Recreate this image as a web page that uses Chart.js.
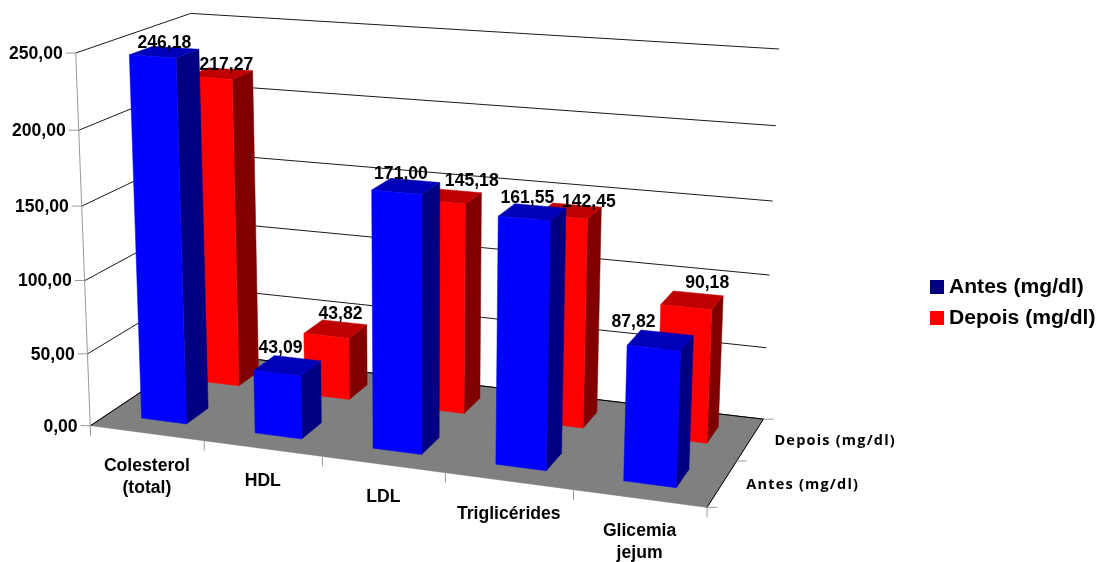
<!DOCTYPE html>
<html>
<head>
<meta charset="utf-8">
<title>Perfil lipídico</title>
<script src="https://cdn.jsdelivr.net/npm/chart.js@4"></script>
<style>
  html, body { margin: 0; padding: 0; background: #fff; }
  canvas { display: block; }
</style>
</head>
<body>
<canvas id="chart" width="1099" height="562"></canvas>
<script>
// Chart data
const categories = [["Colesterol", "(total)"], ["HDL"], ["LDL"], ["Triglicérides"], ["Glicemia", "jejum"]];
const antesValues = [246.18, 43.09, 171.0, 161.55, 87.82];
const depoisValues = [217.27, 43.82, 145.18, 142.45, 90.18];
const seriesNames = ["Antes (mg/dl)", "Depois (mg/dl)"];

// Face colours of each series: front, side, top, legend swatch
const faceColors = [
  { front: "#0000ff", side: "#000080", top: "#0000b8", key: "#000080" },
  { front: "#ff0000", side: "#800000", top: "#bf0000", key: "#ff0000" },
];

// Nudges for the value labels, per series and category, from the centre of the bar top
const labelNudges = [
  [[0, -9], [-7, -18], [-5, -12], [-5, -14], [-27, -18]],
  [[6, -8], [5, -15], [22, -15], [19, -9], [15, -17]],
];

const FONT = '"Liberation Sans", Arial, sans-serif';

// Camera calibration: box corners [u, v, w] (0..1) and where they land on the page
const cameraPoints = [
  [0, 0, 0, 90.5, 426.5], [0.2, 0, 0, 204, 441.7], [0.4, 0, 0, 322, 456.7],
  [0.6, 0, 0, 445.7, 472.7], [0.8, 0, 0, 573, 490], [1, 0, 0, 707, 506.5],
  [0, 1, 0, 200, 352], [1, 1, 0, 763, 419],
  [0, 0, 0.2, 88, 354], [0, 0, 0.4, 85, 279], [0, 0, 0.6, 82, 206], [0, 0, 0.8, 80, 130], [0, 0, 1, 75, 53],
  [1, 1, 0.2, 766.7, 348], [1, 1, 0.4, 770, 275], [1, 1, 0.6, 772.7, 201], [1, 1, 0.8, 776, 126], [1, 1, 1, 779, 49],
  [0, 1, 1, 190, 14],
];

// Least squares fit of the 3x4 projection matrix
function solveCamera(points) {
  const n = 11;
  const ata = Array.from({ length: n }, () => new Array(n + 1).fill(0));
  const addRow = (row, rhs) => {
    for (let i = 0; i < n; i++) {
      for (let j = 0; j < n; j++) ata[i][j] += row[i] * row[j];
      ata[i][n] += row[i] * rhs;
    }
  };
  points.forEach(([u, v, w, px, py]) => {
    const x = px / 1000;
    const y = py / 1000;
    addRow([u, v, w, 1, 0, 0, 0, 0, -x * u, -x * v, -x * w], x);
    addRow([0, 0, 0, 0, u, v, w, 1, -y * u, -y * v, -y * w], y);
  });
  for (let c = 0; c < n; c++) {
    let pivot = c;
    for (let r = c + 1; r < n; r++) {
      if (Math.abs(ata[r][c]) > Math.abs(ata[pivot][c])) pivot = r;
    }
    [ata[c], ata[pivot]] = [ata[pivot], ata[c]];
    for (let r = 0; r < n; r++) {
      if (r === c) continue;
      const f = ata[r][c] / ata[c][c];
      for (let k = c; k <= n; k++) ata[r][k] -= f * ata[c][k];
    }
  }
  return ata.map((row, i) => row[n] / row[i]);
}

const cam = solveCamera(cameraPoints);

function project(u, v, w) {
  const d = cam[8] * u + cam[9] * v + cam[10] * w + 1;
  return {
    x: (1000 * (cam[0] * u + cam[1] * v + cam[2] * w + cam[3])) / d,
    y: (1000 * (cam[4] * u + cam[5] * v + cam[6] * w + cam[7])) / d,
  };
}

function polygon(ctx, pts, fill) {
  ctx.beginPath();
  pts.forEach((p, i) => (i ? ctx.lineTo(p.x, p.y) : ctx.moveTo(p.x, p.y)));
  ctx.closePath();
  ctx.fillStyle = fill;
  ctx.strokeStyle = fill;
  ctx.lineWidth = 0.5;
  ctx.fill();
  ctx.stroke();
}

function line(ctx, a, b, color) {
  ctx.beginPath();
  ctx.moveTo(a.x, a.y);
  ctx.lineTo(b.x, b.y);
  ctx.strokeStyle = color;
  ctx.lineWidth = 1;
  ctx.stroke();
}

// Value scale position as a 0..1 height
function heightOf(chart, value) {
  const area = chart.chartArea;
  return (area.bottom - chart.scales.y.getPixelForValue(value)) / area.height;
}

// Depth slot of a series, same gap rule as the category slots
function depthRange(index, count) {
  return [(index + 0.3) / count, (index + 0.7) / count];
}

const box3d = {
  id: "box3d",

  // Walls, floor and axes behind the columns
  beforeDatasetsDraw(chart) {
    const { ctx, scales } = chart;
    const yScale = scales.y;
    const xScale = scales.x;
    const seriesCount = chart.data.datasets.length;

    yScale.ticks.forEach((tick) => {
      const w = heightOf(chart, tick.value);
      const front = project(0, 0, w);
      const corner = project(0, 1, w);
      line(ctx, front, corner, "#1a1a1a");
      line(ctx, corner, project(1, 1, w), "#1a1a1a");
      line(ctx, { x: front.x - 10, y: front.y }, front, "#999999");
      ctx.fillStyle = "#000";
      ctx.font = "bold 17.6px " + FONT;
      ctx.textAlign = "right";
      ctx.textBaseline = "middle";
      ctx.fillText(tick.label, front.x - 13, front.y + 1);
    });

    const floor = [project(0, 0, 0), project(1, 0, 0), project(1, 1, 0), project(0, 1, 0)];
    polygon(ctx, floor, "#808080");
    line(ctx, floor[0], floor[3], "#000");
    line(ctx, floor[3], floor[2], "#000");
    line(ctx, floor[2], floor[1], "#000");

    // Value axis, running a little below the floor
    const axisFoot = project(0, 0, 0);
    line(ctx, project(0, 0, 1), { x: axisFoot.x, y: axisFoot.y + 10 }, "#999999");

    // Category ticks and labels on the front edge
    const step = 1 / categories.length;
    for (let i = 1; i <= categories.length; i++) {
      const p = project(i * step, 0, 0);
      line(ctx, p, { x: p.x, y: p.y + 10 }, "#999999");
    }
    ctx.font = "bold 17.6px " + FONT;
    ctx.textAlign = "center";
    ctx.textBaseline = "middle";
    ctx.fillStyle = "#000";
    categories.forEach((lines, i) => {
      const u = (xScale.getPixelForValue(i) - chart.chartArea.left) / chart.chartArea.width;
      const p = project(u, 0, 0);
      lines.forEach((text, k) => ctx.fillText(text, p.x, p.y + 33 + k * 22));
    });

    // Depth axis ticks and series names
    for (let s = 0; s <= seriesCount; s++) {
      const p = project(1, s / seriesCount, 0);
      line(ctx, p, { x: p.x + 10, y: p.y }, "#999999");
    }
    ctx.font = 'bold 14.5px "Open Sans", sans-serif';
    ctx.letterSpacing = "1.2px";
    ctx.textAlign = "left";
    seriesNames.forEach((name, s) => {
      const p = project(1, (s + 0.5) / seriesCount, 0);
      ctx.fillText(name, p.x + 24, p.y + 1.5);
    });
    ctx.letterSpacing = "0px";
  },

  // The flat bars are replaced by boxes built from the same elements
  beforeDatasetDraw() {
    return false;
  },

  afterDatasetsDraw(chart) {
    const { ctx, chartArea } = chart;
    const count = chart.data.datasets.length;
    const uOf = (px) => (px - chartArea.left) / chartArea.width;

    // Back series first so the front one covers it
    for (let s = count - 1; s >= 0; s--) {
      const colors = faceColors[s];
      const [v0, v1] = depthRange(s, count);
      chart.getDatasetMeta(s).data.forEach((bar) => {
        const u0 = uOf(bar.x - bar.width / 2);
        const u1 = uOf(bar.x + bar.width / 2);
        const w = (chartArea.bottom - bar.y) / chartArea.height;
        polygon(ctx, [project(u1, v0, 0), project(u1, v1, 0), project(u1, v1, w), project(u1, v0, w)], colors.side);
        polygon(ctx, [project(u0, v0, w), project(u1, v0, w), project(u1, v1, w), project(u0, v1, w)], colors.top);
        polygon(ctx, [project(u0, v0, 0), project(u1, v0, 0), project(u1, v0, w), project(u0, v0, w)], colors.front);
      });
    }

    // Value labels go on top of every box
    ctx.font = "bold 17.6px " + FONT;
    ctx.fillStyle = "#000";
    ctx.textAlign = "center";
    ctx.textBaseline = "middle";
    for (let s = 0; s < count; s++) {
      const [v0, v1] = depthRange(s, count);
      chart.getDatasetMeta(s).data.forEach((bar, i) => {
        const value = chart.data.datasets[s].data[i];
        const top = project(uOf(bar.x), (v0 + v1) / 2, (chartArea.bottom - bar.y) / chartArea.height);
        const [dx, dy] = labelNudges[s][i];
        ctx.fillText(formatValue(value), top.x + dx, top.y + dy);
      });
    }

    // Legend
    ctx.font = "bold 21.1px " + FONT;
    ctx.textAlign = "left";
    seriesNames.forEach((name, s) => {
      const y = 287 + s * 31;
      ctx.fillStyle = faceColors[s].key;
      ctx.fillRect(930, y - 7, 14, 14);
      ctx.fillStyle = "#000";
      ctx.fillText(name, 949, y);
    });
  },
};

function formatValue(value) {
  return value.toFixed(2).replace(".", ",");
}

new Chart(document.getElementById("chart"), {
  type: "bar",
  data: {
    labels: categories,
    datasets: [
      { label: seriesNames[0], data: antesValues, backgroundColor: faceColors[0].front },
      { label: seriesNames[1], data: depoisValues, backgroundColor: faceColors[1].front },
    ],
  },
  options: {
    responsive: false,
    animation: false,
    datasets: { bar: { categoryPercentage: 1, barPercentage: 0.4 } },
    plugins: { legend: { display: false }, tooltip: { enabled: false } },
    scales: {
      x: { display: false, stacked: true },
      y: {
        display: false,
        min: 0,
        max: 250,
        ticks: { stepSize: 50, callback: (value) => formatValue(value) },
      },
    },
  },
  plugins: [box3d],
});
</script>
</body>
</html>
